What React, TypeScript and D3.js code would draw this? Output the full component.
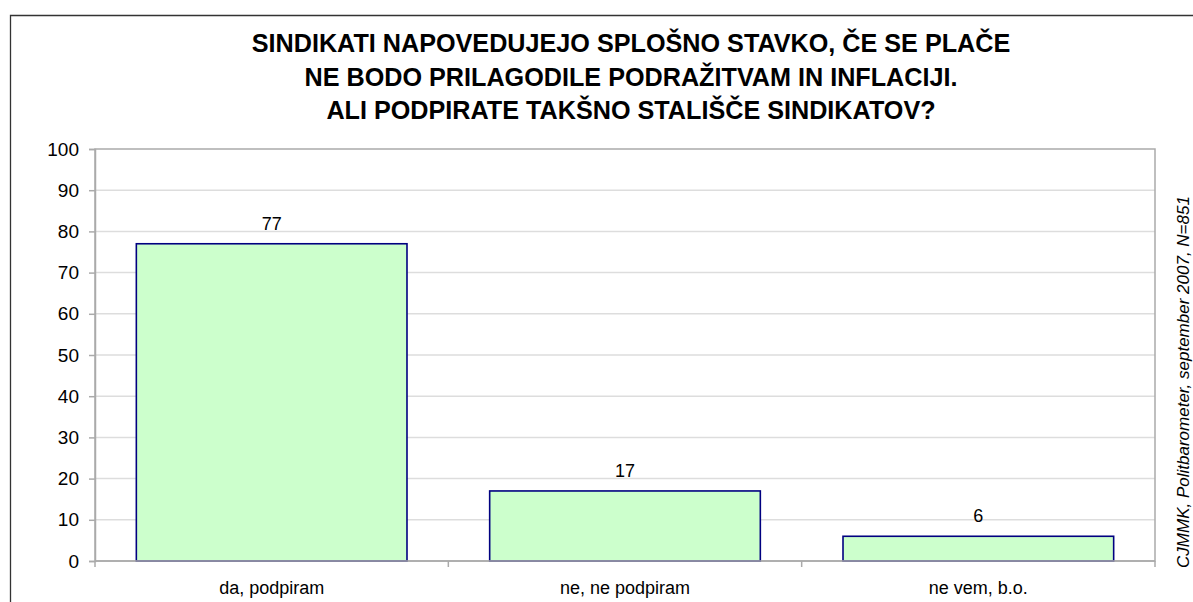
import React, { useEffect, useRef } from 'react'
import * as d3 from 'd3'

// podatki
const categories = ['da, podpiram', 'ne, ne podpiram', 'ne vem, b.o.']
const values = [77, 17, 6]
const yTicks = [0, 10, 20, 30, 40, 50, 60, 70, 80, 90, 100]
const titleLines = [
  'SINDIKATI NAPOVEDUJEJO SPLOŠNO STAVKO, ČE SE PLAČE',
  'NE BODO PRILAGODILE PODRAŽITVAM IN INFLACIJI.',
  'ALI PODPIRATE TAKŠNO STALIŠČE SINDIKATOV?',
]
const sourceNote = 'CJMMK, Politbarometer, september 2007, N=851'

const W = 1193
const H = 602
const margin = { top: 149, left: 95, right: 38, bottom: 41 }
const FONT = 'Arial, "Liberation Sans", sans-serif'

function App() {
  const ref = useRef<SVGSVGElement>(null)

  useEffect(() => {
    const svg = d3.select(ref.current)
    svg.selectAll('*').remove()

    const x0 = margin.left
    const x1 = W - margin.right
    const y0 = H - margin.bottom
    const y1 = margin.top

    const x = d3.scaleBand().domain(categories).range([x0, x1]).paddingInner(0.234).paddingOuter(0.117)
    const xc = d3.scaleBand().domain(categories).range([x0, x1]) // za kljukice med kategorijami
    const y = d3.scaleLinear().domain([0, 100]).range([y0, y1])

    svg.append('rect').attr('width', W).attr('height', H).attr('fill', '#fff')

    // zunanji okvir
    svg.append('path')
      .attr('d', `M10.5,${H + 5}V15.5H${W + 5}`)
      .attr('fill', 'none')
      .attr('stroke', '#333')
      .attr('stroke-width', 1.3)

    // naslov
    const title = svg.append('text')
      .attr('x', 631)
      .attr('text-anchor', 'middle')
      .attr('font-family', FONT)
      .attr('font-weight', 'bold')
      .attr('font-size', 25.2)
      .attr('fill', '#000')
    title.selectAll('tspan')
      .data(titleLines)
      .join('tspan')
      .attr('x', 631)
      .attr('y', (d, i) => [52, 86, 119][i])
      .text(d => d)

    // mreža
    svg.append('g')
      .selectAll('line')
      .data(yTicks.filter(t => t > 0 && t < 100))
      .join('line')
      .attr('x1', x0).attr('x2', x1)
      .attr('y1', d => y(d)).attr('y2', d => y(d))
      .attr('stroke', '#ddd')
      .attr('stroke-width', 1.5)

    // okvir risalne površine
    svg.append('rect')
      .attr('x', x0).attr('y', y1)
      .attr('width', x1 - x0).attr('height', y0 - y1)
      .attr('fill', 'none')
      .attr('stroke', '#aaa')
      .attr('stroke-width', 1.5)

    // stolpci
    svg.append('g')
      .selectAll('rect')
      .data(values)
      .join('rect')
      .attr('x', (d, i) => x(categories[i])!)
      .attr('width', x.bandwidth())
      .attr('y', d => y(d))
      .attr('height', d => y0 - y(d))
      .attr('fill', '#CCFFCC')
      .attr('stroke', '#000080')
      .attr('stroke-width', 1.6)

    // vrednosti nad stolpci
    svg.append('g')
      .selectAll('text')
      .data(values)
      .join('text')
      .attr('x', (d, i) => x(categories[i])! + x.bandwidth() / 2)
      .attr('y', d => y(d) - 14)
      .attr('text-anchor', 'middle')
      .attr('font-family', FONT)
      .attr('font-size', 18)
      .text(d => d)

    // os y
    const yAxis = svg.append('g')
      .attr('transform', `translate(${x0},0)`)
      .call(d3.axisLeft(y).tickValues(yTicks).tickSize(6).tickPadding(10))
    yAxis.select('.domain').attr('stroke', '#aaa').attr('stroke-width', 1.5)
    yAxis.selectAll('.tick line').attr('stroke', '#aaa').attr('stroke-width', 1.5)
    yAxis.selectAll('.tick text')
      .attr('font-family', FONT)
      .attr('font-size', 19)
      .attr('fill', '#000')

    // os x
    svg.append('line')
      .attr('x1', x0).attr('x2', x1)
      .attr('y1', y0).attr('y2', y0)
      .attr('stroke', '#aaa').attr('stroke-width', 1.5)
    const bounds = [...categories.map(c => xc(c)!), x1]
    svg.append('g')
      .selectAll('line')
      .data(bounds)
      .join('line')
      .attr('x1', d => d).attr('x2', d => d)
      .attr('y1', y0).attr('y2', y0 + 6)
      .attr('stroke', '#aaa').attr('stroke-width', 1.5)
    svg.append('g')
      .selectAll('text')
      .data(categories)
      .join('text')
      .attr('x', d => xc(d)! + xc.bandwidth() / 2)
      .attr('y', 594)
      .attr('text-anchor', 'middle')
      .attr('font-family', FONT)
      .attr('font-size', 18)
      .text(d => d)

    // vir
    svg.append('text')
      .attr('transform', `translate(1189,382) rotate(-90)`)
      .attr('text-anchor', 'middle')
      .attr('font-family', FONT)
      .attr('font-style', 'italic')
      .attr('font-size', 17)
      .text(sourceNote)
  }, [])

  return (
    <svg
      ref={ref}
      width={W}
      height={H}
      style={{ position: 'absolute', left: 0, top: 0, display: 'block' }}
    />
  )
}

export default App
